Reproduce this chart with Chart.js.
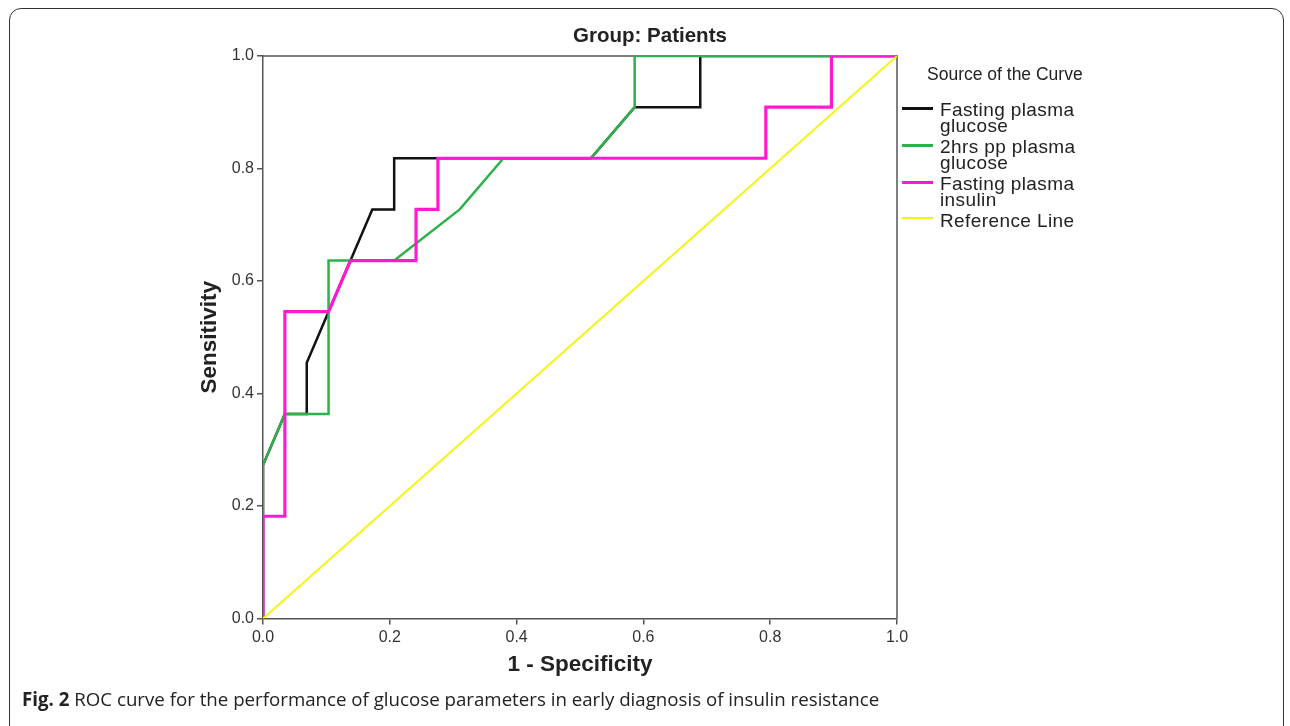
<!DOCTYPE html>
<html>
<head>
<meta charset="utf-8">
<script src="https://cdn.jsdelivr.net/npm/chart.js@4.4.1/dist/chart.umd.min.js"></script>
<style>
  html, body { margin: 0; padding: 0; background: #fff; }
  body { width: 1290px; height: 726px; position: relative; overflow: hidden; }
  #frame { position: absolute; left: 9px; top: 8px; width: 1275px; height: 740px;
           border: 1.5px solid #333; border-radius: 12px; box-sizing: border-box; }
  #wrap { position: absolute; left: 0; top: 0; width: 1290px; height: 690px; }
  #title { position: absolute; left: 450px; width: 400px; top: 22px; text-align: center;
           font-family: "Liberation Sans", Arial, sans-serif; font-weight: bold; font-size: 20.5px; color: #222; line-height: 26px; }
  #legend { position: absolute; left: 900px; top: 64px; font-family: "Liberation Sans", Arial, sans-serif;
            color: #222; }
  #legend .head { font-size: 17.5px; margin-left: 27px; margin-bottom: 17px; }
  #legend .item { position: relative; font-size: 19px; line-height: 16px; padding-left: 40px; margin-bottom: 5px; letter-spacing: 0.4px; }
  #legend .sw { position: absolute; left: 2px; width: 31px; }
  #caption { position: absolute; left: 22px; top: 686px; font-family: "Open Sans", sans-serif;
             font-size: 18.7px; color: #222; white-space: nowrap; }
  #caption b { font-weight: 700; }
</style>
</head>
<body>
<div id="frame"></div>
<div id="wrap"><canvas id="c"></canvas></div>
<div id="title">Group: Patients</div>
<div id="legend"></div>
<div id="caption"><b>Fig. 2</b> ROC curve for the performance of glucose parameters in early diagnosis of insulin resistance</div>
<script>
// ---- data ----
const seriesNames = ["Fasting plasma glucose", "2hrs pp plasma glucose", "Fasting plasma insulin", "Reference Line"];
const legendLines = [["Fasting plasma", "glucose"], ["2hrs pp plasma", "glucose"], ["Fasting plasma", "insulin"], ["Reference Line"]];

const fpgX = [0, 0, 0.0345, 0.069, 0.069, 0.1724, 0.2069, 0.2069, 0.5172, 0.5862, 0.6897, 0.6897, 1];
const fpgY = [0, 0.2727, 0.3636, 0.3636, 0.4545, 0.7273, 0.7273, 0.8182, 0.8182, 0.9091, 0.9091, 1, 1];

const ppX = [0, 0, 0.0345, 0.1034, 0.1034, 0.2069, 0.3103, 0.3793, 0.5172, 0.5862, 0.5862, 1];
const ppY = [0, 0.2727, 0.3636, 0.3636, 0.6364, 0.6364, 0.7273, 0.8182, 0.8182, 0.9091, 1, 1];

const insX = [0, 0, 0.0345, 0.0345, 0.1034, 0.1379, 0.2414, 0.2414, 0.2759, 0.2759, 0.7931, 0.7931, 0.8966, 0.8966, 1];
const insY = [0, 0.1818, 0.1818, 0.5455, 0.5455, 0.6364, 0.6364, 0.7273, 0.7273, 0.8182, 0.8182, 0.9091, 0.9091, 1, 1];

const refX = [0, 1];
const refY = [0, 1];

const tickValues = [0, 0.2, 0.4, 0.6, 0.8, 1.0];

const colors = ["#111111", "#2db24b", "#ff1ad2", "#f5f50a"];
const widths = [2.5, 2.5, 3.2, 2];
const orders = [3, 2, 1, 0];

const xs = [fpgX, ppX, insX, refX];
const ys = [fpgY, ppY, insY, refY];

const datasets = seriesNames.map((name, i) => ({
  label: name,
  data: xs[i].map((x, k) => ({ x: x, y: ys[i][k] })),
  borderColor: colors[i],
  backgroundColor: colors[i],
  borderWidth: widths[i],
  pointRadius: 0,
  showLine: true,
  fill: false,
  tension: 0,
  order: orders[i],
  borderCapStyle: 'butt',
  borderJoinStyle: 'miter'
}));

// HTML legend
const lg = document.getElementById('legend');
let html = '<div class="head">Source of the Curve</div>';
legendLines.forEach((lines, i) => {
  html += '<div class="item"><div class="sw" style="top:' + (lines.length > 1 ? 5 : 4) + 'px;height:' + Math.max(2, Math.round(widths[i])) + 'px;background:' + colors[i] + '"></div>' + lines.join('<br>') + '</div>';
});
lg.innerHTML = html;

const frameBox = {
  id: 'frameBox',
  beforeDatasetsDraw(chart) {
    const a = chart.chartArea, ctx = chart.ctx;
    ctx.save();
    ctx.strokeStyle = '#555';
    ctx.lineWidth = 1.5;
    ctx.beginPath();
    ctx.moveTo(a.left, a.top);
    ctx.lineTo(a.right, a.top);
    ctx.lineTo(a.right, a.bottom);
    ctx.stroke();
    ctx.restore();
  }
};

const tickFont = { family: "'Liberation Sans', Arial, sans-serif", size: 16 };
const titleFont = { family: "'Liberation Sans', Arial, sans-serif", size: 22.5, weight: 'bold' };

new Chart(document.getElementById('c'), {
  type: 'scatter',
  data: { datasets: datasets },
  plugins: [frameBox],
  options: {
    responsive: true,
    maintainAspectRatio: false,
    animation: false,
    layout: { padding: { left: 196, right: 393, top: 56, bottom: 0 } },
    plugins: {
      legend: { display: false },
      tooltip: { enabled: false },
      title: { display: false }
    },
    scales: {
      x: {
        type: 'linear', min: 0, max: 1,
        afterBuildTicks(s) { s.ticks = tickValues.map(v => ({ value: v })); },
        afterFit(s) { s.height = 690 - 618.5; },
        ticks: { color: '#333', font: tickFont, padding: 3, maxRotation: 0,
                 callback: v => Number(v).toFixed(1) },
        grid: { drawOnChartArea: false, drawTicks: true, tickLength: 6, color: '#555', lineWidth: 1.5 },
        border: { color: '#555', width: 1.5 },
        title: { display: true, text: '1 - Specificity', color: '#222', font: titleFont, padding: { top: 4, bottom: 12 } }
      },
      y: {
        type: 'linear', min: 0, max: 1,
        afterBuildTicks(s) { s.ticks = tickValues.map(v => ({ value: v })); },
        afterFit(s) { s.width = 263 - 196; },
        ticks: { color: '#333', font: tickFont, padding: 3,
                 callback: v => Number(v).toFixed(1) },
        grid: { drawOnChartArea: false, drawTicks: true, tickLength: 6, color: '#555', lineWidth: 1.5 },
        border: { color: '#555', width: 1.5 },
        title: { display: true, text: 'Sensitivity', color: '#222', font: titleFont, padding: 0 }
      }
    }
  }
});
</script>
</body>
</html>
